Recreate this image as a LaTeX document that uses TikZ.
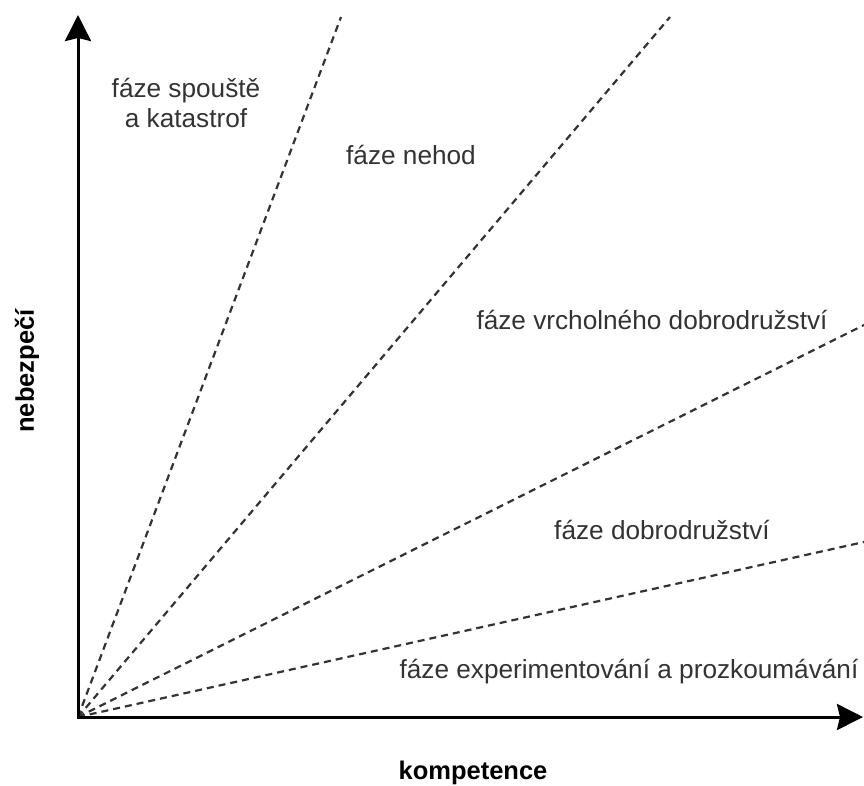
\documentclass[tikz,border=0pt]{standalone}
\usepackage{fontspec}
\setmainfont{Liberation Sans}
\usetikzlibrary{arrows.meta}
\definecolor{ink}{HTML}{333333}
\tikzset{
  axisline/.style={line width=3pt, black, line join=miter,
    arrows={Stealth[length=26pt,width=26pt,inset=3pt]-Stealth[length=26pt,width=26pt,inset=3pt]}},
  divider/.style={line width=2.2pt, ink, dash pattern=on 7pt off 5pt},
  phase/.style={text=ink, font=\fontsize{26.2}{30}\selectfont, align=center, inner sep=0pt},
  axislabel/.style={text=black, font=\bfseries\fontsize{25.5}{30}\selectfont, inner sep=0pt}
}
\begin{document}
\begin{tikzpicture}[x=1pt, y=-1pt]
  \useasboundingbox (0,0) rectangle (864,785);
  % origin and axis ends
  \coordinate (O) at (78,717);
  \coordinate (ytip) at (78,15);
  \coordinate (xtip) at (863,717);
  % outer ends of the phase dividers
  \coordinate (d1) at (341,17);
  \coordinate (d2) at (670,17);
  \coordinate (d3) at (864,325);
  \coordinate (d4) at (864,542);
  % phase dividers
  \draw[divider] (O) -- (d1);
  \draw[divider] (O) -- (d2);
  \draw[divider] (O) -- (d3);
  \draw[divider] (O) -- (d4);
  % axes
  \draw[axisline] (ytip) -- (O) -- (xtip);
  % phase names
  \node[phase] (p1) at (186,103) {fáze spouště\\a katastrof};
  \node[phase] (p2) at (411,155) {fáze nehod};
  \node[phase] (p3) at (652,320) {fáze vrcholného dobrodružství};
  \node[phase] (p4) at (662,530) {fáze dobrodružství};
  \node[phase] (p5) at (629,672) {fáze experimentování a prozkoumávání};
  % axis names
  \node[axislabel, rotate=90] (ylab) at (27,371) {nebezpečí};
  \node[axislabel] (xlab) at (473,773) {kompetence};
\end{tikzpicture}
\end{document}
